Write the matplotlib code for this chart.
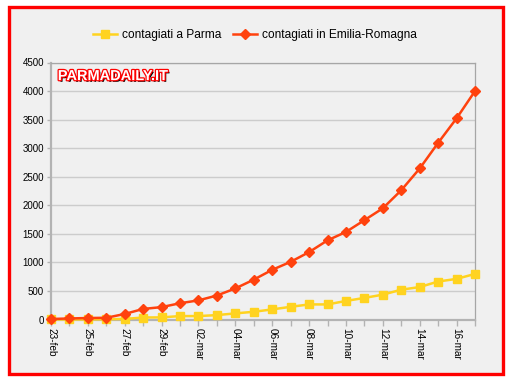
import matplotlib
matplotlib.use("Agg")
import matplotlib.pyplot as plt
import matplotlib.patheffects as pe
from matplotlib.patches import Rectangle

plt.rcParams['font.family'] = ['Liberation Sans', 'DejaVu Sans']

# dati
date = ["23-feb", "24-feb", "25-feb", "26-feb", "27-feb", "28-feb", "29-feb",
        "01-mar", "02-mar", "03-mar", "04-mar", "05-mar", "06-mar", "07-mar",
        "08-mar", "09-mar", "10-mar", "11-mar", "12-mar", "13-mar", "14-mar",
        "15-mar", "16-mar", "17-mar"]
parma = [1, 1, 2, 4, 10, 35, 37, 60, 60, 77, 107, 135, 177, 222,
         264, 264, 325, 378, 435, 522, 568, 665, 711, 798]
emilia = [9, 18, 26, 30, 97, 185, 217, 285, 335, 420, 544, 698, 870, 1010,
          1180, 1386, 1533, 1739, 1947, 2263, 2644, 3093, 3522, 4000]
y_ticks = [0, 500, 1000, 1500, 2000, 2500, 3000, 3500, 4000, 4500]

W, H = 510, 381
fig = plt.figure(figsize=(W / 100, H / 100), dpi=100)
fig.patch.set_facecolor('white')

# cornice rossa
fig.patches.append(Rectangle((9 / W, 1 - 374 / H), 494 / W, 367 / H,
                             transform=fig.transFigure, facecolor='#f0f0f0',
                             edgecolor='#ff0000', linewidth=2.4, zorder=-1))

ax = fig.add_axes([51 / W, 1 - 319.5 / H, 424 / W, 257 / H])
ax.set_facecolor('#f0f0f0')

x = list(range(len(date)))
ax.plot(x, parma, color='#ffd320', lw=1.8, marker='s', ms=6,
        label='contagiati a Parma', clip_on=False, zorder=3)
ax.plot(x, emilia, color='#ff420e', lw=1.8, marker='D', ms=5,
        label='contagiati in Emilia-Romagna', clip_on=False, zorder=4)

ax.set_xlim(0, len(date) - 1)
ax.set_ylim(0, 4500)
ax.set_yticks(y_ticks)
ax.set_yticklabels([str(v) for v in y_ticks], fontsize=7)
ax.set_xticks(x)
ax.set_xticklabels([d if i % 2 == 0 else '' for i, d in enumerate(date)],
                   rotation=270, fontsize=7.2, va='top', ha='center')
ax.tick_params(axis='x', length=4, color='#b3b3b3', width=1, pad=2)
ax.tick_params(axis='y', length=3, color='#b3b3b3', width=1, pad=2)

ax.grid(axis='y', color='#cccccc', lw=1.0)
ax.set_axisbelow(True)
for s in ['left', 'bottom']:
    ax.spines[s].set_color('#b3b3b3')
    ax.spines[s].set_linewidth(1.6)
for s in ['top', 'right']:
    ax.spines[s].set_color('#a6a6a6')
    ax.spines[s].set_linewidth(0.9)

# logo: ombra nera, contorno rosso, interno bianco
ax.text(0.016, 0.947, 'PARMADAILY.IT', transform=ax.transAxes,
        fontsize=10.5, fontweight='bold', color='white', va='center', ha='left',
        path_effects=[pe.SimplePatchShadow(offset=(1.2, -1.2), shadow_rgbFace='black', alpha=1),
                      pe.withStroke(linewidth=1.8, foreground='#ff0000')],
        zorder=5)

fig.legend(loc='center', bbox_to_anchor=(0.5, 1 - 35 / H), ncol=2, frameon=False,
           fontsize=8.6, handlelength=2.0, columnspacing=1.0, handletextpad=0.4)

fig.savefig('out.png', dpi=100)
